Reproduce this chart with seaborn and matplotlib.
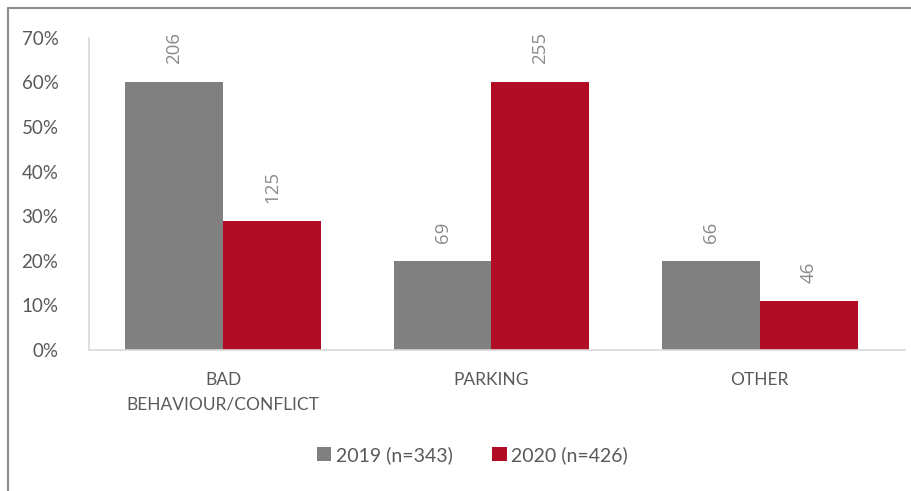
import matplotlib
matplotlib.use('Agg')
import matplotlib.pyplot as plt
from matplotlib.lines import Line2D
from matplotlib.ticker import PercentFormatter
import numpy as np
import pandas as pd
import seaborn as sns

categories = ['BAD\nBEHAVIOUR/CONFLICT', 'PARKING', 'OTHER']
years = ['2019 (n=343)', '2020 (n=426)']
share_2019 = [0.60, 0.20, 0.20]
share_2020 = [0.29, 0.60, 0.11]
count_2019 = [206, 69, 66]
count_2020 = [125, 255, 46]
colors = ['#808080', '#B10E26']

df = pd.DataFrame({
    'category': categories * 2,
    'year': [years[0]] * 3 + [years[1]] * 3,
    'share': share_2019 + share_2020,
})

sns.set_style('white')
plt.rcParams['font.family'] = ['Lato', 'DejaVu Sans']
text_grey = '#595959'

fig = plt.figure(figsize=(9.12, 4.91), dpi=100)
ax = fig.add_axes([0.0976, 0.287, 0.8944, 0.636])

sns.barplot(data=df, x='category', y='share', hue='year', order=categories,
            hue_order=years, palette=colors, width=0.73, saturation=1,
            linewidth=0, ax=ax, legend=True)

for container, counts in zip(ax.containers, [count_2019, count_2020]):
    ax.bar_label(container, labels=[str(c) for c in counts], rotation=90,
                 padding=13, color='#8a8a8a', fontsize=13.5,
                 family=['Open Sans', 'DejaVu Sans'])

ax.set_ylim(0, 0.7)
ax.set_xlim(-0.5, 2.54)
ax.yaxis.set_major_formatter(PercentFormatter(1.0, decimals=0))
ax.set_yticks(np.arange(0, 0.71, 0.1))
ax.tick_params(axis='y', labelsize=13.5, labelcolor=text_grey, length=0, pad=22)
ax.tick_params(axis='x', labelsize=12.5, labelcolor=text_grey, length=0, pad=16)
for lbl in ax.get_xticklabels():
    lbl.set_linespacing(1.65)
    lbl.set_verticalalignment('top')
ax.set_xlabel('')
ax.set_ylabel('')
for side in ['top', 'right']:
    ax.spines[side].set_visible(False)
ax.spines['left'].set_color('#d9d9d9')
ax.spines['bottom'].set_color('#d9d9d9')
ax.spines['left'].set_linewidth(1.2)
ax.spines['bottom'].set_linewidth(1.2)

handles, labels = ax.get_legend_handles_labels()
ax.legend_.remove()
fig.legend(handles, labels, loc='center', bbox_to_anchor=(0.518, 0.073),
           ncol=2, frameon=False, fontsize=14, labelcolor=text_grey,
           handlelength=0.75, handleheight=0.75, handletextpad=0.25,
           columnspacing=2.0)

# outer frame (only top and left edges visible in the crop)
fig.add_artist(Line2D([8 / 912, 8 / 912], [0, 1 - 8 / 491],
                      transform=fig.transFigure, color='#8c8c8c', lw=1.5))
fig.add_artist(Line2D([8 / 912, 1], [1 - 8 / 491, 1 - 8 / 491],
                      transform=fig.transFigure, color='#8c8c8c', lw=1.5))

fig.savefig('out.png', dpi=100)
